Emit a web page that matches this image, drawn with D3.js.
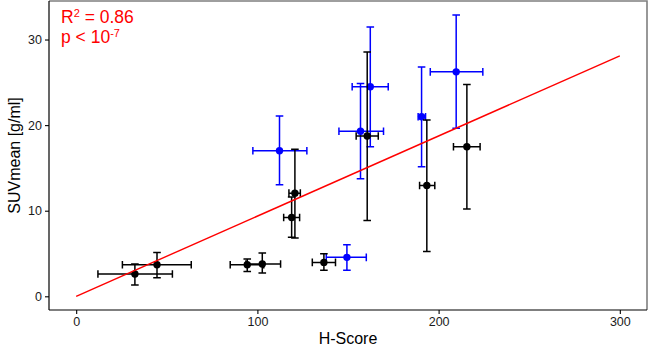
<!DOCTYPE html>
<html>
<head>
<meta charset="utf-8">
<script src="https://cdn.jsdelivr.net/npm/d3@7"></script>
<style>
  body { margin: 0; background: #fff; }
  svg { display: block; font-family: "Liberation Sans", Arial, sans-serif; }
</style>
</head>
<body>
<div id="chart"></div>
<script>
// black group: H-Score (x) with range, SUVmean (y) with range
var blackH      = [32.4, 44.6, 94.4, 102.7, 118.9, 120.7, 136.7, 160.6, 193.5, 215.6];
var blackHLo    = [12.0, 25.5, 85.0, 93.7, 114.5, 117.4, 130.3, 154.5, 189.5, 208.2];
var blackHHi    = [53.1, 63.5, 103.5, 112.8, 123.3, 123.7, 143.1, 166.7, 197.9, 222.9];
var blackSUV    = [2.61, 3.69, 3.69, 3.78, 9.21, 12.05, 3.96, 18.73, 12.94, 17.48];
var blackSUVLo  = [1.33, 2.18, 2.91, 2.73, 6.9, 6.8, 3.03, 8.86, 5.24, 10.19];
var blackSUVHi  = [3.78, 5.13, 4.36, 5.06, 11.6, 17.18, 4.98, 28.55, 20.6, 24.75];

// blue group
var blueH       = [112.2, 149.4, 156.9, 162.3, 190.6, 209.7];
var blueHLo     = [97.5, 138.0, 145.0, 152.3, 188.7, 195.4];
var blueHHi     = [127.3, 160.1, 169.6, 172.2, 192.8, 224.4];
var blueSUV     = [17.0, 4.55, 19.28, 24.48, 20.98, 26.22];
var blueSUVLo   = [13.02, 3.03, 13.72, 17.48, 15.15, 19.63];
var blueSUVHi   = [21.06, 6.03, 24.87, 31.47, 26.8, 32.87];

// regression line
var fitX = [0, 300];
var fitY = [0, 28.1];

var xTicks = [0, 100, 200, 300];
var yTicks = [0, 10, 20, 30];

function makeRows(h, hLo, hHi, s, sLo, sHi) {
    return h.map((d, i) => ({ x: d, xlo: hLo[i], xhi: hHi[i], y: s[i], ylo: sLo[i], yhi: sHi[i] }));
}

function drawChart() {
    var w = 649, h = 348;
    var pLeft = 49, pRight = 647, pTop = 1, pBottom = 310;

    var svg = d3.select("#chart").append("svg")
        .attr("width", w)
        .attr("height", h);

    var xScale = d3.scaleLinear().domain([-15, 315]).range([pLeft, pRight]);
    var yScale = d3.scaleLinear().domain([-1.6, 34.5]).range([pBottom, pTop]);

    // panel border (top/right grey)
    svg.append("path")
        .attr("d", `M${pLeft},${pTop}H${pRight}V${pBottom}`)
        .attr("fill", "none")
        .attr("stroke", "#7f7f7f")
        .attr("stroke-width", 1.6);

    // axes
    var xAxis = svg.append("g")
        .attr("transform", `translate(0,${pBottom})`)
        .call(d3.axisBottom(xScale).tickValues(xTicks).tickSize(4).tickPadding(3).tickSizeOuter(0));
    var yAxis = svg.append("g")
        .attr("transform", `translate(${pLeft},0)`)
        .call(d3.axisLeft(yScale).tickValues(yTicks).tickSize(4).tickPadding(3).tickSizeOuter(0));

    [xAxis, yAxis].forEach(a => {
        a.select(".domain").attr("stroke", "#000").attr("stroke-width", 1.2);
        a.selectAll(".tick line").attr("stroke", "#000").attr("stroke-width", 1.1);
        a.selectAll(".tick text")
            .attr("fill", "#1a1a1a")
            .style("font-size", "12.5px")
            .style("font-family", "'Liberation Sans', Arial, sans-serif");
    });
    // axis lines span the full panel
    xAxis.select(".domain").attr("d", `M${pLeft},0H${pRight}`);
    yAxis.select(".domain").attr("d", `M0,${pTop}V${pBottom}`);

    // axis titles
    svg.append("text")
        .attr("x", (pLeft + pRight) / 2)
        .attr("y", 344)
        .attr("text-anchor", "middle")
        .style("font-size", "16px")
        .attr("fill", "#000")
        .text("H-Score");

    svg.append("text")
        .attr("transform", `translate(20,${(pTop + pBottom) / 2}) rotate(-90)`)
        .attr("text-anchor", "middle")
        .style("font-size", "16px")
        .attr("fill", "#000")
        .text("SUVmean [g/ml]");

    var cap = 3.8;

    function drawGroup(rows, color) {
        var g = svg.append("g");
        // vertical error bars
        g.selectAll(".ev").data(rows).enter().append("path")
            .attr("d", d => {
                var x = xScale(d.x), y0 = yScale(d.ylo), y1 = yScale(d.yhi);
                return `M${x},${y0}V${y1}M${x - cap},${y0}H${x + cap}M${x - cap},${y1}H${x + cap}`;
            })
            .attr("fill", "none").attr("stroke", color).attr("stroke-width", 1.5);
        // horizontal error bars
        g.selectAll(".eh").data(rows).enter().append("path")
            .attr("d", d => {
                var y = yScale(d.y), x0 = xScale(d.xlo), x1 = xScale(d.xhi);
                return `M${x0},${y}H${x1}M${x0},${y - cap}V${y + cap}M${x1},${y - cap}V${y + cap}`;
            })
            .attr("fill", "none").attr("stroke", color).attr("stroke-width", 1.5);
        g.selectAll("circle").data(rows).enter().append("circle")
            .attr("cx", d => xScale(d.x))
            .attr("cy", d => yScale(d.y))
            .attr("r", 3.7)
            .attr("fill", color);
    }

    drawGroup(makeRows(blueH, blueHLo, blueHHi, blueSUV, blueSUVLo, blueSUVHi), "#0000ff");
    drawGroup(makeRows(blackH, blackHLo, blackHHi, blackSUV, blackSUVLo, blackSUVHi), "#000000");

    // regression line
    svg.append("path")
        .datum(fitX.map((d, i) => [d, fitY[i]]))
        .attr("d", d3.line().x(d => xScale(d[0])).y(d => yScale(d[1])))
        .attr("fill", "none")
        .attr("stroke", "#ff0000")
        .attr("stroke-width", 1.4);

    // annotation
    var ann = svg.append("g").attr("fill", "#ff0000").style("font-size", "17.5px");
    var t1 = ann.append("text").attr("x", 61).attr("y", 23);
    t1.append("tspan").text("R");
    t1.append("tspan").attr("dy", -6).style("font-size", "11px").text("2");
    t1.append("tspan").attr("dy", 6).text(" = 0.86");
    var t2 = ann.append("text").attr("x", 61).attr("y", 43);
    t2.append("tspan").text("p < 10");
    t2.append("tspan").attr("dy", -6).style("font-size", "11px").text("-7");
}

drawChart();
</script>
</body>
</html>
